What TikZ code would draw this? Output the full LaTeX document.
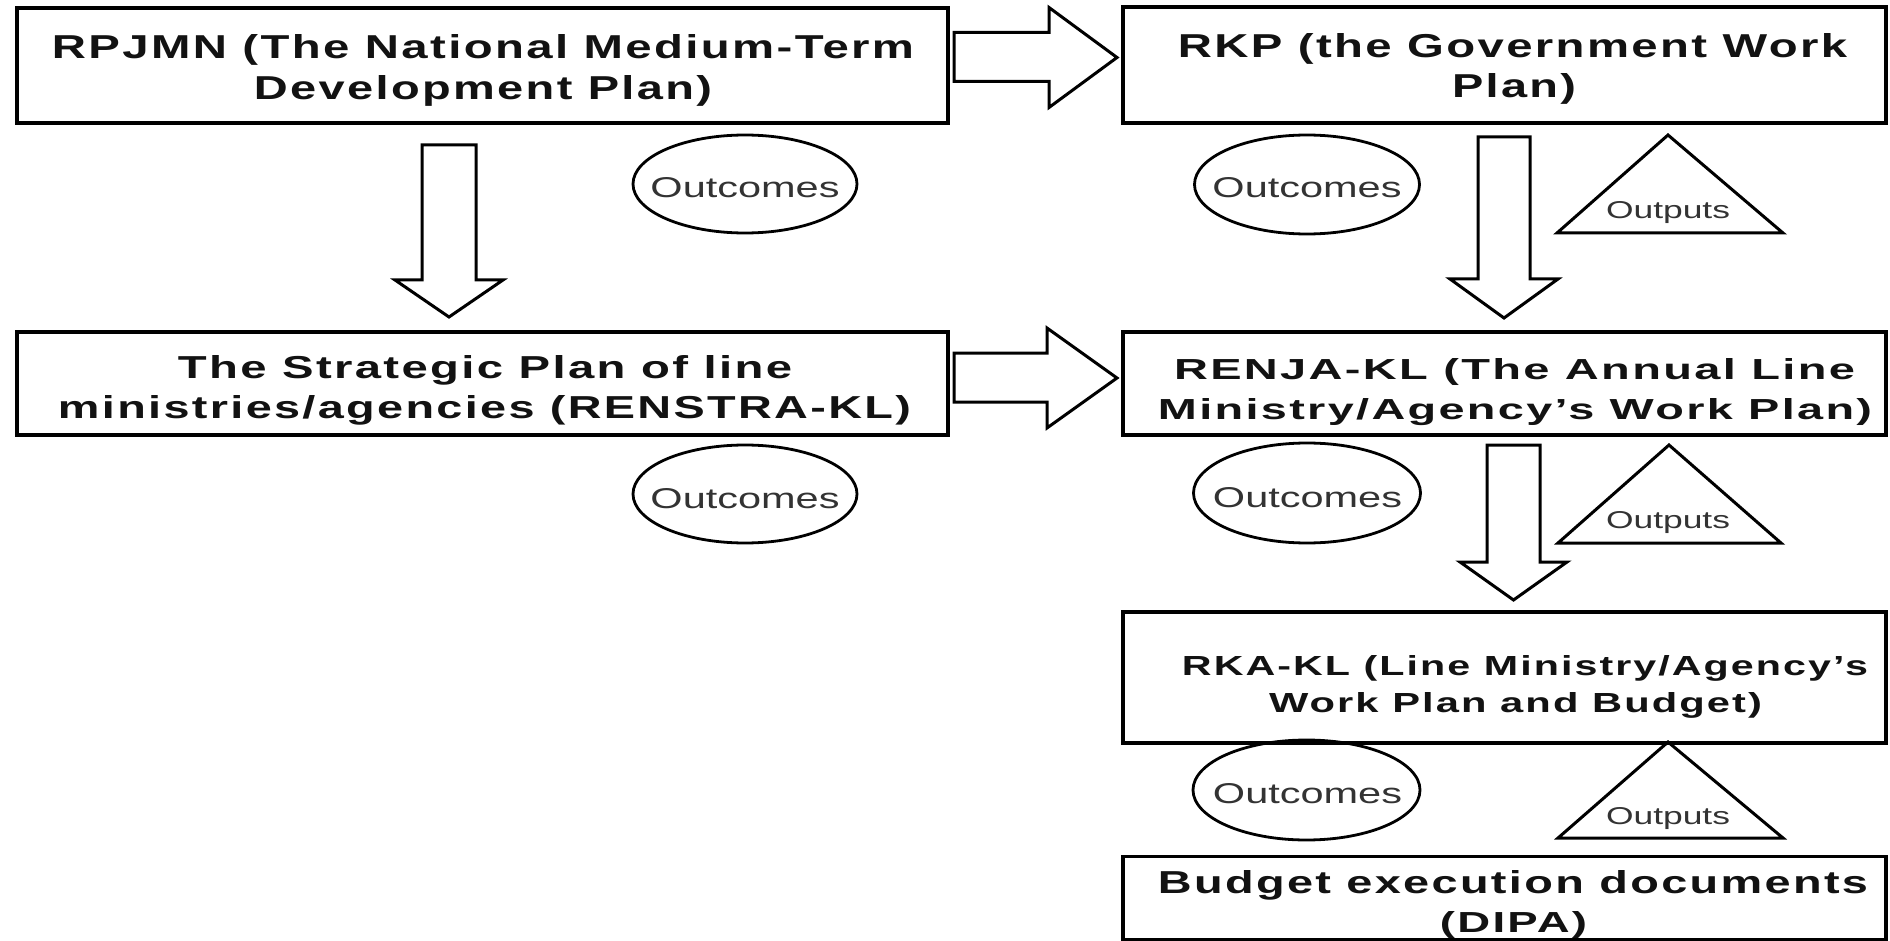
\documentclass[tikz,border=0pt]{standalone}
\usepackage{fontspec}
\usepackage{graphicx}
\setmainfont{Liberation Sans}
\newfontfamily\spacedfont[LetterSpace=5]{Liberation Sans}
\usetikzlibrary{shapes.geometric}
\newcommand\fitline[3]{\resizebox{#1pt}{#2pt}{#3}}
\begin{document}
\begin{tikzpicture}[x=1pt,y=-1pt,
  box/.style={draw, line width=3.5pt, rectangle, inner sep=0pt},
  blk/.style={draw, line width=3pt, fill=white, line join=miter},
  oval/.style={draw, ellipse, line width=2.8pt, inner sep=0pt},
  tri/.style={draw, line width=3pt, line join=miter},
  lbl/.style={anchor=base, inner sep=0pt, font=\spacedfont\bfseries, text=black!93},
  small/.style={anchor=base, inner sep=0pt, text=black!80}]
\useasboundingbox[fill=white] (0,0) rectangle (1890,941);

% boxes
\node[box, minimum width=931pt, minimum height=115pt] (b1) at (482.5,65.5) {};
\node[box, minimum width=763pt, minimum height=116pt] (b2) at (1504.5,65) {};
\node[box, minimum width=931pt, minimum height=103pt] (b3) at (482.5,383.5) {};
\node[box, minimum width=763pt, minimum height=103pt] (b4) at (1504.5,383.5) {};
\node[box, minimum width=763pt, minimum height=131pt] (b5) at (1504.5,677.5) {};
\node[box, minimum width=763pt, minimum height=83pt] (b6) at (1504.5,898) {};

% box texts
\node[lbl] (b1a) at (483,59) {\fitline{862}{24}{RPJMN (The National Medium-Term}};
\node[lbl] (b1b) at (483,100) {\fitline{458}{24}{Development Plan)}};
\node[lbl] (b2a) at (1512.5,58) {\fitline{669}{24}{RKP (the Government Work}};
\node[lbl] (b2b) at (1514,98) {\fitline{124}{24}{Plan)}};
\node[lbl] (b3a) at (485,378) {\fitline{614}{23}{The Strategic Plan of line}};
\node[lbl] (b3b) at (484.5,418) {\fitline{853}{23}{ministries/agencies (RENSTRA-KL)}};
\node[lbl] (b4a) at (1514.5,379) {\fitline{681}{21}{RENJA-KL (The Annual Line}};
\node[lbl] (b4b) at (1515,419) {\fitline{714}{21}{Ministry/Agency’s Work Plan)}};
\node[lbl] (b5a) at (1525,675) {\fitline{686}{20}{RKA-KL (Line Ministry/Agency’s}};
\node[lbl] (b5b) at (1515.5,712) {\fitline{493}{20}{Work Plan and Budget)}};
\node[lbl] (b6a) at (1513,893) {\fitline{710}{23}{Budget execution documents}};
\node[lbl] (b6b) at (1513.5,932) {\fitline{147}{21}{(DIPA)}};

% horizontal block arrows
\draw[blk] (954,32.5) -- (1049,32.5) -- (1049,7.5) -- (1117,57.5) -- (1049,107.5) -- (1049,81.5) -- (954,81.5) -- cycle;
\draw[blk] (954,353) -- (1047,353) -- (1047,328) -- (1117,378) -- (1047,428) -- (1047,402) -- (954,402) -- cycle;

% vertical block arrows
\draw[blk] (422,145) -- (476,145) -- (476,280) -- (503,280) -- (449,317) -- (395,280) -- (422,280) -- cycle;
\draw[blk] (1478,137) -- (1530,137) -- (1530,279) -- (1558,279) -- (1504,318) -- (1450,279) -- (1478,279) -- cycle;
\draw[blk] (1487,445) -- (1540,445) -- (1540,562) -- (1567,562) -- (1513.5,600) -- (1460,562) -- (1487,562) -- cycle;

% outcome ellipses
\node[oval, minimum width=224pt, minimum height=98pt] (o1) at (745,184) {};
\node[oval, minimum width=225pt, minimum height=99pt] (o2) at (1307,184.5) {};
\node[oval, minimum width=224pt, minimum height=98pt] (o3) at (745,494) {};
\node[oval, minimum width=227pt, minimum height=100pt] (o4) at (1307,493) {};
\node[oval, minimum width=227pt, minimum height=100pt] (o5) at (1306.5,790) {};
\node[small] (o1t) at (745,198) {\fitline{189}{20}{Outcomes}};
\node[small] (o2t) at (1307,198) {\fitline{189}{20}{Outcomes}};
\node[small] (o3t) at (745,508) {\fitline{189}{20}{Outcomes}};
\node[small] (o4t) at (1307.5,507) {\fitline{189}{20}{Outcomes}};
\node[small] (o5t) at (1307.5,803) {\fitline{189}{20}{Outcomes}};

% output triangles
\draw[tri] (1668,135) -- (1783,233) -- (1557,233) -- cycle;
\draw[tri] (1669,445) -- (1781,543) -- (1558,543) -- cycle;
\draw[tri] (1668,742) -- (1783,838) -- (1558,838) -- cycle;
\node[small] (p1t) at (1668,219) {\fitline{124}{17}{Outputs}};
\node[small] (p2t) at (1668,528) {\fitline{124}{17}{Outputs}};
\node[small] (p3t) at (1668,824) {\fitline{124}{17}{Outputs}};
\end{tikzpicture}
\end{document}
